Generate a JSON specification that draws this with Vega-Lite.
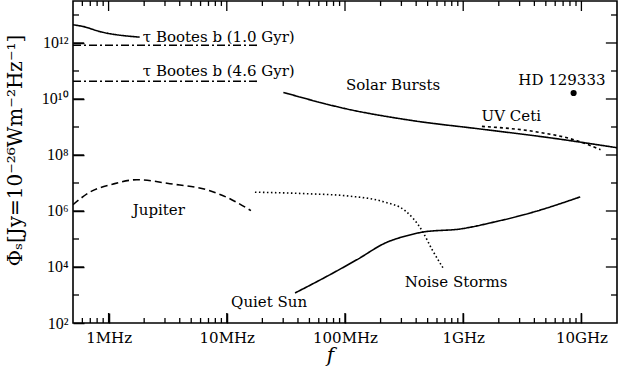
{
  "$schema": "https://vega.github.io/schema/vega-lite/v6.json",
  "width": 544,
  "height": 322,
  "autosize": "none",
  "padding": {"left": 73, "top": 1, "right": 2, "bottom": 43},
  "background": "white",
  "config": {
    "view": {"stroke": "black", "strokeWidth": 1.6},
    "font": "DejaVu Serif",
    "axis": {"domain": false, "grid": false, "ticks": true, "zindex": 1, "tickColor": "#000000", "tickWidth": 1.5, "tickOpacity": 1, "labelColor": "black", "titleColor": "black", "labelOverlap": false, "labelFlush": false}
  },
  "datasets": {
    "curves": [
      {"series": "Bootes bursts", "f": 5.0e5, "phi": 4.47e12},
      {"series": "Bootes bursts", "f": 6.08e5, "phi": 3.89e12},
      {"series": "Bootes bursts", "f": 8.41e5, "phi": 2.57e12},
      {"series": "Bootes bursts", "f": 1.83e6, "phi": 1.62e12},
      {"series": "tau Bootes b 1.0", "f": 5.0e5, "phi": 8.3e11},
      {"series": "tau Bootes b 1.0", "f": 1.83e7, "phi": 8.3e11},
      {"series": "tau Bootes b 4.6", "f": 5.0e5, "phi": 4.3e10},
      {"series": "tau Bootes b 4.6", "f": 1.83e7, "phi": 4.3e10},
      {"series": "Solar Bursts", "f": 3.01e7, "phi": 1.72e10},
      {"series": "Solar Bursts", "f": 1.04e8, "phi": 4.40e9},
      {"series": "Solar Bursts", "f": 3.77e8, "phi": 1.68e9},
      {"series": "Solar Bursts", "f": 1.39e9, "phi": 8.49e8},
      {"series": "Solar Bursts", "f": 5.11e9, "phi": 4.26e8},
      {"series": "Solar Bursts", "f": 2.0e10, "phi": 1.82e8},
      {"series": "UV Ceti", "f": 1.44e9, "phi": 1.05e9},
      {"series": "UV Ceti", "f": 3.92e9, "phi": 6.97e8},
      {"series": "UV Ceti", "f": 9.18e9, "phi": 3.24e8},
      {"series": "UV Ceti", "f": 1.45e10, "phi": 1.55e8},
      {"series": "Jupiter", "f": 5.0e5, "phi": 1.68e6},
      {"series": "Jupiter", "f": 6.92e5, "phi": 4.69e6},
      {"series": "Jupiter", "f": 1.08e6, "phi": 9.06e6},
      {"series": "Jupiter", "f": 1.73e6, "phi": 1.31e7},
      {"series": "Jupiter", "f": 3.30e6, "phi": 9.44e6},
      {"series": "Jupiter", "f": 7.19e6, "phi": 5.31e6},
      {"series": "Jupiter", "f": 1.10e7, "phi": 2.54e6},
      {"series": "Jupiter", "f": 1.60e7, "phi": 1.03e6},
      {"series": "Noise Storms", "f": 1.73e7, "phi": 4.69e6},
      {"series": "Noise Storms", "f": 4.74e7, "phi": 4.15e6},
      {"series": "Noise Storms", "f": 1.10e8, "phi": 3.38e6},
      {"series": "Noise Storms", "f": 2.11e8, "phi": 2.15e6},
      {"series": "Noise Storms", "f": 3.22e8, "phi": 1.03e6},
      {"series": "Noise Storms", "f": 4.49e8, "phi": 1.98e5},
      {"series": "Noise Storms", "f": 5.46e8, "phi": 4.15e4},
      {"series": "Noise Storms", "f": 6.76e8, "phi": 9.2e3},
      {"series": "Quiet Sun", "f": 3.78e7, "phi": 1.18e3},
      {"series": "Quiet Sun", "f": 7.46e7, "phi": 5.31e3},
      {"series": "Quiet Sun", "f": 1.26e8, "phi": 1.82e4},
      {"series": "Quiet Sun", "f": 2.25e8, "phi": 7.57e4},
      {"series": "Quiet Sun", "f": 3.33e8, "phi": 1.31e5},
      {"series": "Quiet Sun", "f": 4.60e8, "phi": 1.78e5},
      {"series": "Quiet Sun", "f": 9.42e8, "phi": 2.28e5},
      {"series": "Quiet Sun", "f": 1.93e9, "phi": 4.26e5},
      {"series": "Quiet Sun", "f": 3.69e9, "phi": 8.49e5},
      {"series": "Quiet Sun", "f": 9.77e9, "phi": 3.19e6}
    ],
    "points": [
      {"name": "HD 129333", "f": 8.59e9, "phi": 1.64e10}
    ],
    "labels": [
      {"label": "τ Bootes b (1.0 Gyr)", "f": 1.95e6, "phi": 1.68e12},
      {"label": "τ Bootes b (4.6 Gyr)", "f": 1.95e6, "phi": 1.02e11},
      {"label": "Solar Bursts", "f": 2.55e8, "phi": 3.24e10},
      {"label": "HD 129333", "f": 6.84e9, "phi": 4.9e10},
      {"label": "UV Ceti", "f": 2.55e9, "phi": 2.54e9},
      {"label": "Jupiter", "f": 2.66e6, "phi": 1.11e6},
      {"label": "Quiet Sun", "f": 2.28e7, "phi": 577},
      {"label": "Noise Storms", "f": 8.69e8, "phi": 2990}
    ],
    "xmajor": [{"v": 1e6}, {"v": 1e7}, {"v": 1e8}, {"v": 1e9}, {"v": 1e10}],
    "xminor": [
      {"v": 6e5}, {"v": 7e5}, {"v": 8e5}, {"v": 9e5},
      {"v": 2e6}, {"v": 3e6}, {"v": 4e6}, {"v": 5e6}, {"v": 6e6}, {"v": 7e6}, {"v": 8e6}, {"v": 9e6},
      {"v": 2e7}, {"v": 3e7}, {"v": 4e7}, {"v": 5e7}, {"v": 6e7}, {"v": 7e7}, {"v": 8e7}, {"v": 9e7},
      {"v": 2e8}, {"v": 3e8}, {"v": 4e8}, {"v": 5e8}, {"v": 6e8}, {"v": 7e8}, {"v": 8e8}, {"v": 9e8},
      {"v": 2e9}, {"v": 3e9}, {"v": 4e9}, {"v": 5e9}, {"v": 6e9}, {"v": 7e9}, {"v": 8e9}, {"v": 9e9}
    ],
    "ymajor": [{"v": 1e4}, {"v": 1e6}, {"v": 1e8}, {"v": 1e10}, {"v": 1e12}],
    "yminor": [{"v": 1e3}, {"v": 1e5}, {"v": 1e7}, {"v": 1e9}, {"v": 1e11}, {"v": 1e13}]
  },
  "layer": [
    {
      "data": {"name": "curves"},
      "mark": {"type": "line", "color": "black", "strokeWidth": 1.6, "interpolate": "monotone", "clip": true},
      "encoding": {
        "x": {
          "field": "f", "type": "quantitative",
          "scale": {"type": "log", "domain": [5e5, 2e10], "nice": false},
          "axis": {
            "orient": "bottom", "offset": -10, "tickSize": 10,
            "title": "f",
            "titleFont": "DejaVu Serif", "titleFontStyle": "italic", "titleFontWeight": "normal", "titleFontSize": 20,
            "titleX": 257, "titleY": 32,
            "values": [1e6, 1e7, 1e8, 1e9, 1e10],
            "labelExpr": "datum.value==1e6?'1MHz':datum.value==1e7?'10MHz':datum.value==1e8?'100MHz':datum.value==1e9?'1GHz':'10GHz'",
            "labelFont": "DejaVu Serif", "labelFontSize": 15, "labelPadding": 7
          }
        },
        "y": {
          "field": "phi", "type": "quantitative",
          "scale": {"type": "log", "domain": [100, 3.16e13], "nice": false},
          "axis": {
            "orient": "left", "offset": -11, "tickSize": 11,
            "title": "Φₛ[Jy=10⁻²⁶Wm⁻²Hz⁻¹]",
            "titleFont": "DejaVu Serif", "titleFontWeight": "normal", "titleFontSize": 20,
            "titleX": -69, "titleY": 149, "titleBaseline": "middle", "titleAngle": -90,
            "values": [1e2, 1e4, 1e6, 1e8, 1e10, 1e12],
            "labelExpr": "datum.value==1e2?'10²':datum.value==1e4?'10⁴':datum.value==1e6?'10⁶':datum.value==1e8?'10⁸':datum.value==1e10?'10¹⁰':'10¹²'",
            "labelFont": "Liberation Serif", "labelFontSize": 16, "labelPadding": 5
          }
        },
        "strokeDash": {
          "field": "series", "type": "nominal", "legend": null,
          "scale": {
            "domain": ["Bootes bursts", "tau Bootes b 1.0", "tau Bootes b 4.6", "Solar Bursts", "UV Ceti", "Jupiter", "Noise Storms", "Quiet Sun"],
            "range": [[1, 0], [8, 3, 2, 3], [8, 3, 2, 3], [1, 0], [3, 3], [7, 4], [1.5, 2.5], [1, 0]]
          }
        }
      }
    },
    {
      "data": {"name": "points"},
      "mark": {"type": "circle", "color": "black", "opacity": 1, "size": 38},
      "encoding": {
        "x": {"field": "f", "type": "quantitative", "axis": null},
        "y": {"field": "phi", "type": "quantitative", "axis": null}
      }
    },
    {
      "data": {"name": "labels"},
      "transform": [{"filter": "indexof(datum.label, 'Bootes') >= 0"}],
      "mark": {"type": "text", "align": "left", "baseline": "middle", "font": "DejaVu Serif", "fontSize": 15, "color": "black"},
      "encoding": {
        "x": {"field": "f", "type": "quantitative", "axis": null},
        "y": {"field": "phi", "type": "quantitative", "axis": null},
        "text": {"field": "label"}
      }
    },
    {
      "data": {"name": "labels"},
      "transform": [{"filter": "indexof(datum.label, 'Bootes') < 0"}],
      "mark": {"type": "text", "align": "center", "baseline": "middle", "font": "DejaVu Serif", "fontSize": 15, "color": "black"},
      "encoding": {
        "x": {"field": "f", "type": "quantitative", "axis": null},
        "y": {"field": "phi", "type": "quantitative", "axis": null},
        "text": {"field": "label"}
      }
    },
    {
      "data": {"name": "xmajor"},
      "mark": {"type": "rule", "color": "black", "strokeWidth": 1.3},
      "encoding": {
        "x": {"field": "v", "type": "quantitative", "axis": null},
        "y": {"datum": 100, "type": "quantitative", "axis": null},
        "y2": {"datum": 228}
      }
    },
    {
      "data": {"name": "xmajor"},
      "mark": {"type": "rule", "color": "black", "strokeWidth": 1.3},
      "encoding": {
        "x": {"field": "v", "type": "quantitative", "axis": null},
        "y": {"datum": 3.16e13, "type": "quantitative", "axis": null},
        "y2": {"datum": 1.39e13}
      }
    },
    {
      "data": {"name": "xminor"},
      "mark": {"type": "rule", "color": "black", "strokeWidth": 1.3},
      "encoding": {
        "x": {"field": "v", "type": "quantitative", "axis": null},
        "y": {"datum": 100, "type": "quantitative", "axis": null},
        "y2": {"datum": 151}
      }
    },
    {
      "data": {"name": "xminor"},
      "mark": {"type": "rule", "color": "black", "strokeWidth": 1.3},
      "encoding": {
        "x": {"field": "v", "type": "quantitative", "axis": null},
        "y": {"datum": 3.16e13, "type": "quantitative", "axis": null},
        "y2": {"datum": 2.1e13}
      }
    },
    {
      "data": {"name": "ymajor"},
      "mark": {"type": "rule", "color": "black", "strokeWidth": 1.3},
      "encoding": {
        "y": {"field": "v", "type": "quantitative", "axis": null},
        "x": {"datum": 5e5, "type": "quantitative", "axis": null},
        "x2": {"datum": 6.19e5}
      }
    },
    {
      "data": {"name": "ymajor"},
      "mark": {"type": "rule", "color": "black", "strokeWidth": 1.3},
      "encoding": {
        "y": {"field": "v", "type": "quantitative", "axis": null},
        "x": {"datum": 2e10, "type": "quantitative", "axis": null},
        "x2": {"datum": 1.61e10}
      }
    },
    {
      "data": {"name": "yminor"},
      "mark": {"type": "rule", "color": "black", "strokeWidth": 1.3},
      "encoding": {
        "y": {"field": "v", "type": "quantitative", "axis": null},
        "x": {"datum": 5e5, "type": "quantitative", "axis": null},
        "x2": {"datum": 5.62e5}
      }
    },
    {
      "data": {"name": "yminor"},
      "mark": {"type": "rule", "color": "black", "strokeWidth": 1.3},
      "encoding": {
        "y": {"field": "v", "type": "quantitative", "axis": null},
        "x": {"datum": 2e10, "type": "quantitative", "axis": null},
        "x2": {"datum": 1.78e10}
      }
    }
  ],
  "resolve": {"axis": {"x": "independent", "y": "independent"}}
}
